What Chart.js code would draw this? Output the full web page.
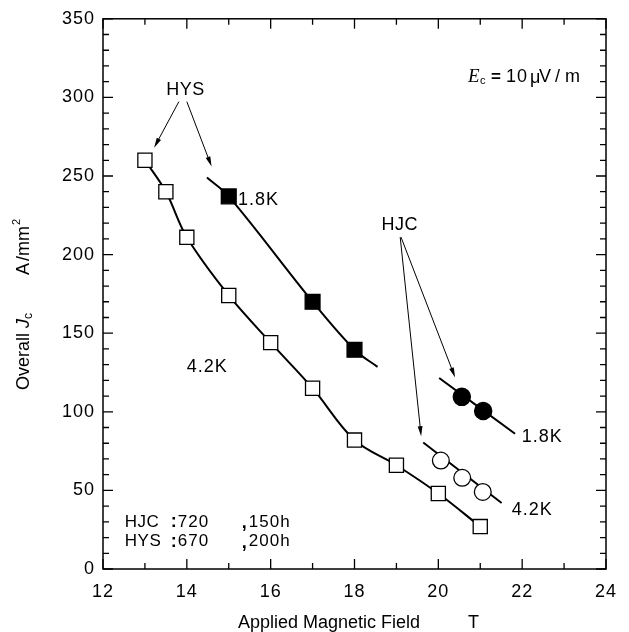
<!DOCTYPE html>
<html><head><meta charset="utf-8">
<script src="https://cdn.jsdelivr.net/npm/chart.js@4.4.1/dist/chart.umd.min.js"></script>
<style>html,body{margin:0;padding:0;background:#fff}#wrap{width:629px;height:632px}</style>
</head><body><div id="wrap"><canvas id="c" width="629" height="632"></canvas></div>
<script>
// ---- tick values ----
const xTicks = [12, 14, 16, 18, 20, 22, 24];
const xMinorTicks = [13, 15, 17, 19, 21, 23];
const yTicks = [0, 50, 100, 150, 200, 250, 300, 350];
const yMinorTicks = [10, 20, 30, 40, 60, 70, 80, 90, 110, 120, 130, 140, 160, 170, 180, 190,
                     210, 220, 230, 240, 260, 270, 280, 290, 310, 320, 330, 340];

// ---- HYS, 4.2 K (open squares) ----
const hys42Field = [13, 13.5, 14, 15, 16, 17, 18, 19, 20, 21];
const hys42Jc    = [260, 240, 211, 174, 144, 115, 82, 66, 48, 27];
// ---- HYS, 1.8 K (filled squares) ----
const hys18Field = [15, 17, 18];
const hys18Jc    = [237, 170, 139.5];
const hys18FitField = [14.48, 15, 17, 18, 18.55];
const hys18FitJc    = [249, 237, 170, 139.5, 128.6];
// ---- HJC, 4.2 K (open circles) ----
const hjc42Field = [20.06, 20.57, 21.06];
const hjc42Jc    = [69, 58, 49];
const hjc42FitField = [19.64, 21.51];
const hjc42FitJc    = [80.5, 42];
// ---- HJC, 1.8 K (filled circles) ----
const hjc18Field = [20.56, 21.07];
const hjc18Jc    = [109.5, 100.5];
const hjc18FitField = [20.02, 21.83];
const hjc18FitJc    = [121.5, 86];

const FONT = '"Liberation Sans", Arial, Helvetica, sans-serif';
const INK = '#000';

function pts(xs, ys) { return xs.map((x, i) => ({ x: x, y: ys[i] })); }

function markerSet(xs, ys, style, fill, r) {
  return { data: pts(xs, ys), showLine: false, order: 0,
    pointStyle: style, pointRadius: r, pointHoverRadius: r,
    pointBackgroundColor: fill, pointBorderColor: INK, pointBorderWidth: 1.3 };
}
function lineSet(xs, ys) {
  return { data: pts(xs, ys), showLine: true, order: 1, pointRadius: 0, pointHoverRadius: 0,
    borderColor: INK, borderWidth: 2, tension: 0.35, fill: false };
}

function arrow(ctx, x1, y1, x2, y2) {
  const a = Math.atan2(y2 - y1, x2 - x1), L = 10, W = 2.4;
  ctx.beginPath(); ctx.moveTo(x1, y1); ctx.lineTo(x2 - 4 * Math.cos(a), y2 - 4 * Math.sin(a)); ctx.stroke();
  ctx.beginPath(); ctx.moveTo(x2, y2);
  ctx.lineTo(x2 - L * Math.cos(a) + W * Math.sin(a), y2 - L * Math.sin(a) - W * Math.cos(a));
  ctx.lineTo(x2 - L * Math.cos(a) - W * Math.sin(a), y2 - L * Math.sin(a) + W * Math.cos(a));
  ctx.closePath(); ctx.fill();
}

const framePlugin = {
  id: 'frame',
  beforeDraw(chart) { chart.ctx.letterSpacing = '1px'; },
  afterDraw(chart) {
    const ctx = chart.ctx, a = chart.chartArea, xs = chart.scales.x, ys = chart.scales.y;
    ctx.save();
    ctx.letterSpacing = '0px';
    ctx.strokeStyle = INK; ctx.lineWidth = 1.5;
    ctx.strokeRect(a.left, a.top, a.right - a.left, a.bottom - a.top);
    ctx.lineWidth = 1.3;
    const tick = (vals, len) => {
      vals.forEach(v => {
        const px = xs.getPixelForValue(v);
        ctx.beginPath(); ctx.moveTo(px, a.bottom); ctx.lineTo(px, a.bottom - len);
        ctx.moveTo(px, a.top); ctx.lineTo(px, a.top + len); ctx.stroke();
      });
    };
    const tickY = (vals, len) => {
      vals.forEach(v => {
        const py = ys.getPixelForValue(v);
        ctx.beginPath(); ctx.moveTo(a.left, py); ctx.lineTo(a.left + len, py);
        ctx.moveTo(a.right, py); ctx.lineTo(a.right - len, py); ctx.stroke();
      });
    };
    tick(xTicks, 10); tick(xMinorTicks, 6); tickY(yTicks, 10); tickY(yMinorTicks, 6);

    // axis titles
    ctx.fillStyle = INK; ctx.textBaseline = 'middle'; ctx.textAlign = 'left';
    ctx.font = '18px ' + FONT;
    ctx.fillText('Applied Magnetic Field', 238, 623);
    ctx.fillText('T', 468, 623);

    ctx.save();
    ctx.translate(24, 0); ctx.rotate(-Math.PI / 2);
    let u = -390;
    ctx.font = '18px ' + FONT; ctx.fillText('Overall ', u, 0); u += ctx.measureText('Overall ').width;
    ctx.font = 'italic 18px ' + FONT; ctx.fillText('J', u, 0); u += ctx.measureText('J').width;
    ctx.font = '12px ' + FONT; ctx.fillText('c', u, 5);
    u = -275;
    ctx.font = '18px ' + FONT; ctx.fillText('A', u, 0); u += ctx.measureText('A').width + 2;
    ctx.fillText('/mm', u, 0); u += ctx.measureText('/mm').width + 1;
    ctx.font = '11px ' + FONT; ctx.fillText('2', u, -7);
    ctx.restore();
    ctx.restore();
  },
  afterDatasetsDraw(chart) {
    const ctx = chart.ctx, xs = chart.scales.x, ys = chart.scales.y;
    const X = v => xs.getPixelForValue(v), Y = v => ys.getPixelForValue(v);
    ctx.save();
    ctx.strokeStyle = INK; ctx.fillStyle = INK; ctx.lineWidth = 1;
    ctx.letterSpacing = '0px';
    // arrows
    arrow(ctx, X(13.81), Y(297.3), X(13.22), Y(268));
    arrow(ctx, X(14.0), Y(297.3), X(14.59), Y(256));
    arrow(ctx, X(19.09), Y(211.1), X(19.59), Y(84.5));
    arrow(ctx, X(19.11), Y(211.1), X(20.40), Y(121.8));

    ctx.letterSpacing = '0.5px';
    ctx.font = '18px ' + FONT; ctx.textBaseline = 'middle';
    ctx.textAlign = 'center';
    ctx.fillText('HYS', X(13.97), Y(304.7));
    ctx.fillText('HJC', X(19.08), Y(219.1));
    ctx.textAlign = 'left';
    ctx.letterSpacing = '1px';
    ctx.fillText('1.8K', X(15.22), Y(235));
    ctx.fillText('4.2K', X(14.0), Y(128.5));
    ctx.fillText('1.8K', X(21.99), Y(84));
    ctx.fillText('4.2K', X(21.75), Y(37.5));

    // E_c label
    const ex = X(20.71), ey = Y(312.7);
    ctx.letterSpacing = '0px';
    ctx.font = 'italic 19px "Liberation Serif", "Times New Roman", serif';
    ctx.fillText('E', ex, ey);
    ctx.font = '11px ' + FONT; ctx.fillText('c', ex + 12, ey + 4);
    ctx.font = 'bold 17px ' + FONT; ctx.fillText('=', ex + 23, ey);
    ctx.font = '18px ' + FONT;
    ctx.letterSpacing = '1px';
    ctx.fillText('10', ex + 38, ey);
    ctx.letterSpacing = '0px';
    ctx.fillText('\u03bc', ex + 62, ey + 1);
    ctx.fillText('V', ex + 71, ey);
    ctx.fillText('/', ex + 87, ey);
    ctx.fillText('m', ex + 97, ey);

    // conditions
    const lx = X(12.52);
    const rows = [['HJC', '720', '150h', 30], ['HYS', '670', '200h', 17.3]];
    rows.forEach(r => {
      const y = Y(r[3]);
      ctx.letterSpacing = '0.5px';
      ctx.font = '17px ' + FONT;
      ctx.fillText(r[0], lx, y);
      ctx.letterSpacing = '1px';
      ctx.fillText(r[1], lx + 53, y);
      ctx.fillText(r[2], lx + 124, y);
      ctx.font = 'bold 18px ' + FONT;
      ctx.fillText(':', lx + 46, y);
      ctx.fillText(',', lx + 117, y + 1);
    });
    ctx.restore();
  }
};

new Chart(document.getElementById('c'), {
  type: 'scatter',
  data: { datasets: [
    markerSet(hys42Field, hys42Jc, 'rect', '#fff', 10),
    markerSet(hys18Field, hys18Jc, 'rect', '#000', 10.5),
    markerSet(hjc42Field, hjc42Jc, 'circle', '#fff', 8.4),
    markerSet(hjc18Field, hjc18Jc, 'circle', '#000', 8.6),
    lineSet(hys42Field, hys42Jc),
    lineSet(hys18FitField, hys18FitJc),
    lineSet(hjc42FitField, hjc42FitJc),
    lineSet(hjc18FitField, hjc18FitJc)
  ] },
  options: {
    responsive: false, animation: false, events: [],
    layout: { padding: { top: 18, right: 23, left: 0, bottom: 0 } },
    plugins: { legend: { display: false }, tooltip: { enabled: false } },
    scales: {
      x: { type: 'linear', min: 12, max: 24,
        afterBuildTicks: s => { s.ticks = xTicks.map(v => ({ value: v })); },
        afterFit: s => { s.height = 63; },
        ticks: { font: { family: FONT, size: 18 }, color: INK, padding: 12, maxRotation: 0, autoSkip: false },
        grid: { display: false, drawTicks: false }, border: { display: false } },
      y: { type: 'linear', min: 0, max: 350,
        afterBuildTicks: s => { s.ticks = yTicks.map(v => ({ value: v })); },
        afterFit: s => { s.width = 103; },
        ticks: { font: { family: FONT, size: 18 }, color: INK, padding: 8, autoSkip: false },
        grid: { display: false, drawTicks: false }, border: { display: false } }
    }
  },
  plugins: [framePlugin]
});
</script></body></html>
